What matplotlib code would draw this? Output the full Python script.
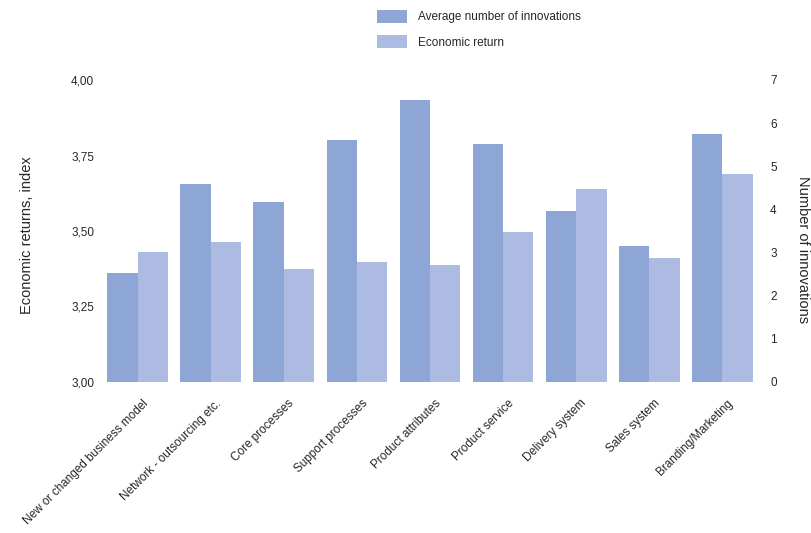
import numpy as np
import matplotlib
matplotlib.use("Agg")
from matplotlib import pyplot as plt
from matplotlib.patches import Patch

plt.rcParams['font.family'] = ['Liberation Sans', 'DejaVu Sans']

categories = ["New or changed business model", "Network - outsourcing etc.",
              "Core processes", "Support processes", "Product attributes",
              "Product service", "Delivery system", "Sales system",
              "Branding/Marketing"]
avg_innovations = [2.53, 4.60, 4.17, 5.61, 6.54, 5.52, 3.96, 3.15, 5.74]
economic_return = [3.432, 3.463, 3.374, 3.396, 3.388, 3.498, 3.640, 3.409, 3.690]

left_ticks = [3.00, 3.25, 3.50, 3.75, 4.00]
left_labels = ["3,00", "3,25", "3,50", "3,75", "4,00"]
right_ticks = [0, 1, 2, 3, 4, 5, 6, 7]

dark = "#8ea6d6"
light = "#adbbe2"
txt = "#262626"

fig = plt.figure(figsize=(8.12, 5.33), dpi=100)
ax = fig.add_axes([101 / 812, 1 - 382 / 533, 658 / 812, 302 / 533])
ax2 = ax.twinx()

x = np.arange(len(categories))
w = 0.415
ax2.bar(x - w / 2, avg_innovations, w, color=dark, linewidth=0)
ax.bar(x + w / 2, economic_return, w, color=light, linewidth=0)

ax.set_xlim(-0.5, len(categories) - 0.5)
ax.set_ylim(3.0, 4.0)
ax2.set_ylim(0, 7)

ax.set_yticks(left_ticks)
ax.set_yticklabels(left_labels)
ax2.set_yticks(right_ticks)

# ticks sit a bit right of the group centre so the slanted text ends there
ax.set_xticks(x + 0.06)
ax.set_xticklabels(categories, rotation=45, ha='right', va='top',
                   rotation_mode='anchor', fontsize=8.5, color=txt)

for a in (ax, ax2):
    for s in a.spines.values():
        s.set_visible(False)
ax.tick_params(axis='both', length=0, colors=txt, labelsize=8.5)
ax.tick_params(axis='y', pad=5)
ax.tick_params(axis='x', pad=11)
ax2.tick_params(axis='y', length=0, colors=txt, labelsize=8.5, pad=8)

fig.text(27 / 812, 1 - 235 / 533, "Economic returns, index", rotation=90,
         ha='center', va='center', fontsize=10.5, color=txt)
fig.text(803 / 812, 1 - 250 / 533, "Number of innovations", rotation=270,
         ha='center', va='center', fontsize=10.5, color=txt)

handles = [Patch(facecolor=dark, label="Average number of innovations"),
           Patch(facecolor=light, label="Economic return")]
ax.legend(handles=handles, loc='upper left',
          bbox_to_anchor=(377 / 812, 1 - 10 / 533), bbox_transform=fig.transFigure,
          frameon=False, borderpad=0, borderaxespad=0, fontsize=8.5,
          handlelength=2.5, handleheight=1.3, handletextpad=1.0,
          labelspacing=1.0, labelcolor=txt)

plt.savefig("out.png", dpi=100)
